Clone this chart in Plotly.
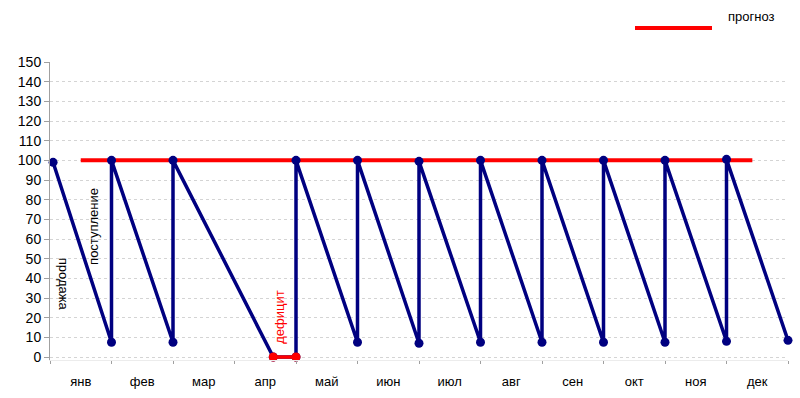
import plotly.graph_objects as go

months = ["янв", "фев", "мар", "апр", "май", "июн", "июл", "авг", "сен", "окт", "ноя", "дек"]
month_pos = [0.5, 1.5, 2.5, 3.5, 4.5, 5.5, 6.5, 7.5, 8.5, 9.5, 10.5, 11.5]
boundaries = [0, 1, 2, 3, 4, 5, 6, 7, 8, 9, 10, 11, 12]

# stock level (blue saw-tooth)
stock_x = [0.05, 1.0, 1.0, 2.0, 2.0, 3.63, 4.0, 4.0, 5.0, 5.0, 6.0, 6.0, 7.0, 7.0,
           8.0, 8.0, 9.0, 9.0, 10.0, 10.0, 11.0, 11.0, 12.0]
stock_y = [99, 7.5, 100, 7.5, 100, 0, 0, 100, 7.5, 100, 7, 99.5, 7.5, 100,
           7.5, 100, 7.5, 100, 7.5, 100, 8, 100.5, 8.5]

# deficit segment
deficit_x = [3.63, 4.0]
deficit_y = [0, 0]

# forecast
forecast_x = [0.5, 11.42]
forecast_y = [100, 100]

FONT = "Liberation Sans, Arial, sans-serif"
NAVY = "#000080"
RED = "#ff0000"

Y_MIN = -1.5  # small padding so the zero-level segment is not clipped
PX_PER_UNIT = 295 / 150
EXTRA = -Y_MIN * PX_PER_UNIT
PLOT_H = 295 + EXTRA

fig = go.Figure()
fig.add_trace(go.Scatter(x=forecast_x, y=forecast_y, mode="lines", name="прогноз",
                         line=dict(color=RED, width=4), showlegend=False))
fig.add_trace(go.Scatter(x=stock_x, y=stock_y, mode="lines+markers", name="запас",
                         line=dict(color=NAVY, width=3.5),
                         marker=dict(color=NAVY, size=9, line=dict(width=0)),
                         showlegend=False, cliponaxis=False))
fig.add_trace(go.Scatter(x=deficit_x, y=deficit_y, mode="lines+markers", name="дефицит",
                         line=dict(color=RED, width=3.5),
                         marker=dict(color=RED, size=9, line=dict(width=0)),
                         showlegend=False, cliponaxis=False))

# manual legend
fig.add_shape(type="line", xref="paper", yref="paper",
              x0=(635 - 50) / 738, x1=(712 - 50) / 738,
              y0=(357 + EXTRA - 28) / PLOT_H, y1=(357 + EXTRA - 28) / PLOT_H,
              line=dict(color=RED, width=4))
fig.add_annotation(xref="paper", yref="paper", x=(726 - 50) / 738,
                   y=(357 + EXTRA - 17) / PLOT_H,
                   text="прогноз", showarrow=False, xanchor="left", yanchor="middle",
                   font=dict(family=FONT, size=13, color="#000"))

# rotated labels
fig.add_annotation(x=0.22, y=37, text="продажа", textangle=90, showarrow=False,
                   font=dict(family=FONT, size=13, color="#000"))
fig.add_annotation(x=0.71, y=66.5, text="поступление", textangle=-90, showarrow=False,
                   font=dict(family=FONT, size=13, color="#000"))
fig.add_annotation(x=3.74, y=20, text="дефицит", textangle=-90, showarrow=False,
                   font=dict(family=FONT, size=13, color=RED))

fig.update_layout(
    width=800, height=398,
    margin=dict(l=50, r=12, t=62, b=41 - EXTRA),
    paper_bgcolor="white", plot_bgcolor="white",
    font=dict(family=FONT, size=13, color="#000"),
    xaxis=dict(range=[0, 12], tickvals=month_pos, ticktext=months, automargin=False,
               ticks="outside", ticklen=9, tickcolor="rgba(0,0,0,0)",
               showgrid=False, zeroline=False,
               showline=True, linecolor="#ececec", linewidth=1,
               tickfont=dict(family=FONT, size=13, color="#000"),
               minor=dict(tickvals=boundaries, ticks="outside", ticklen=3,
                          tickcolor="#a0a0a0", showgrid=False)),
    yaxis=dict(range=[Y_MIN, 150], tickvals=list(range(0, 151, 10)), automargin=False,
               ticks="outside", ticklen=5, tickcolor="#a0a0a0",
               showgrid=True, gridcolor="#d4d4d4", griddash="dot", gridwidth=1,
               zeroline=False, showline=True, linecolor="#a0a0a0", linewidth=1,
               tickfont=dict(family=FONT, size=14, color="#000")),
)

fig.write_html("out.html", config={"displayModeBar": False},
               post_script="document.body.style.margin='0px';")
